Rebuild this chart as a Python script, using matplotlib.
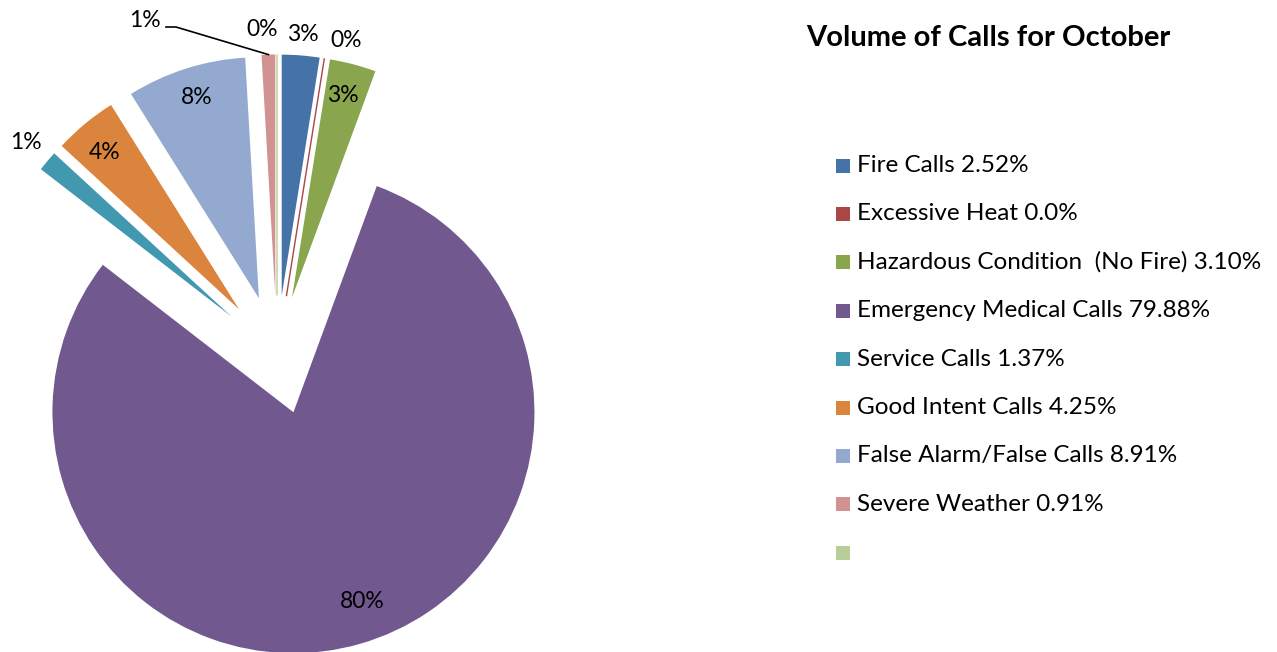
import matplotlib.pyplot as plt
from matplotlib.patches import Rectangle
import numpy as np

plt.rcParams['font.family'] = ['Lato', 'DejaVu Sans']

# October call volume by type (percent of calls)
categories = ['Fire Calls', 'Excessive Heat', 'Hazardous Condition  (No Fire)',
              'Emergency Medical Calls', 'Service Calls', 'Good Intent Calls',
              'False Alarm/False Calls', 'Severe Weather', '']
shares = [2.52, 0.0, 3.10, 79.88, 1.37, 4.25, 8.0, 0.91, 0.0]
legend_pct = ['2.52%', '0.0%', '3.10%', '79.88%', '1.37%', '4.25%', '8.91%', '0.91%', '']
colors = ['#4572A7', '#AA4643', '#89A54E', '#71588F', '#4198AF',
          '#DB843D', '#93A9CF', '#D19392', '#B9CD96']

W, H = 1277, 652
fig = plt.figure(figsize=(W / 100, H / 100), dpi=100)

# pie axes: centre at (277, 355) px from top-left, radius 241 px
R = 241.0
cx, cy = 277.0, H - 355.0
ax = fig.add_axes([0, 0, 2 * cx / W, 2 * cy / H])
explode = [0.247] * len(shares)
wedges, _ = ax.pie(shares, colors=colors, explode=explode, startangle=90,
                   counterclock=False, wedgeprops=dict(linewidth=0))
for w, v, c in zip(wedges, shares, colors):
    if v == 0:
        w.set_edgecolor(c)
        w.set_linewidth(1.0)
ax.set_xlim(-cx / R, cx / R)
ax.set_ylim(-cy / R, cy / R)
ax.set_aspect('equal')
ax.axis('off')

# percentage labels: distance from pie centre (radii) and clockwise nudge (deg)
total = sum(shares)
label_dist = [1.332, 1.338, 1.113, 1.080, 1.366, 1.104, 1.117, 1.494, 1.350]
label_nudge = [0, 3.3, -0.4, -3.0, 0, -0.6, 0.4, -19.9, -2.6]
for w, v, dist, dn in zip(wedges, shares, label_dist, label_nudge):
    cw = np.deg2rad(90 - (w.theta1 + w.theta2) / 2 + dn)
    ax.text(dist * np.sin(cw), dist * np.cos(cw), f'{round(100 * v / total)}%',
            ha='center', va='center', fontsize=16.5, color='black', clip_on=False)

# leader line for the Severe Weather label
sw = wedges[7]
mid = np.deg2rad((sw.theta1 + sw.theta2) / 2)
tip = (sw.center[0] + np.cos(mid), sw.center[1] + np.sin(mid))
px = lambda x, y: ((x - cx) / R, (H - y - cy) / R)
p0 = px(166, 27)
p1 = px(176, 27)
ax.plot([p0[0], p1[0], tip[0]], [p0[1], p1[1], tip[1]], color='black',
        linewidth=1.2, clip_on=False)

fig.text(988 / W, 1 - 38 / H, 'Volume of Calls for October', ha='center',
         va='center', fontsize=21, fontweight='bold')

# legend
row0, step = 165.5, 48.4
for i, (name, pct, col) in enumerate(zip(categories, legend_pct, colors)):
    yc = row0 + i * step
    fig.patches.append(Rectangle((836 / W, 1 - (yc + 7) / H), 14 / W, 14 / H,
                                 transform=fig.transFigure, facecolor=col,
                                 edgecolor='none'))
    label = (name + ' ' + pct).strip()
    if label:
        fig.text(857 / W, 1 - yc / H, label, ha='left', va='center', fontsize=17.5)

fig.savefig('out.png', dpi=100)
